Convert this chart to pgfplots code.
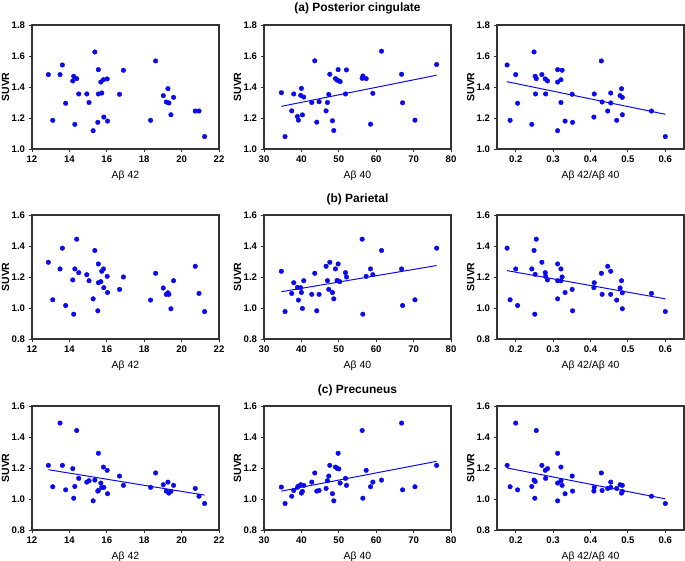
\documentclass[border=0pt]{standalone}
\usepackage{fontspec}
\setmainfont{Liberation Sans}
\usepackage{pgfplots}
\pgfplotsset{compat=1.18}
\definecolor{dotblue}{RGB}{10,10,235}
\pgfplotsset{
  panel/.style={
    scale only axis, width=187bp, height=124bp,
    tick align=outside, tick pos=left,
    axis line style={line width=1.1pt, black!80},
    major tick length=3.5bp,
    every tick/.style={line width=0.9pt, black!80},
    ticklabel style={font=\fontsize{9.6}{10}\selectfont\bfseries},
    /pgf/number format/assume math mode=true,
    ylabel={SUVR},
    ylabel style={font=\fontsize{10.5}{12}\selectfont\bfseries, yshift=-4.5bp},
    xlabel style={font=\fontsize{10.5}{12}\selectfont, yshift=-1bp},
    yticklabel style={/pgf/number format/.cd, fixed, fixed zerofill, precision=1},
    title style={font=\fontsize{12}{14}\selectfont\bfseries, yshift=1bp},
  },
  ca/.style={xmin=12, xmax=22, xtick={12,14,16,18,20,22}, xlabel={Aβ 42}},
  cb/.style={xmin=30, xmax=80, xtick={30,40,50,60,70,80}, xlabel={Aβ 40}},
  cc/.style={xmin=0.15, xmax=0.65, xtick={0.2,0.3,0.4,0.5,0.6}, xlabel={Aβ 42/Aβ 40},
    xticklabel style={/pgf/number format/.cd, fixed, fixed zerofill, precision=1}},
  ra/.style={ymin=1.0, ymax=1.8, ytick={1.0,1.2,1.4,1.6,1.8}},
  rb/.style={ymin=0.8, ymax=1.6, ytick={0.8,1.0,1.2,1.4,1.6}},
  dots/.style={only marks, mark=*, mark size=2.3bp, color=dotblue, mark options={draw=dotblue, fill=dotblue}},
  fit/.style={no marks, color=dotblue, line width=1pt},
}
\begin{document}
\begin{tikzpicture}[x=1bp,y=1bp]
\useasboundingbox (0,0) rectangle (685,561);
% ---------- Row a ----------
\begin{axis}[panel, ca, ra, at={(32bp,412bp)}]
\addplot[dots] coordinates {(12.875,1.48)(13.11,1.185)(13.5,1.48)(13.625,1.542)(13.8,1.295)(14.18,1.439)(14.23,1.469)(14.29,1.159)(14.39,1.454)(14.5,1.355)(14.93,1.355)(15.05,1.30)(15.27,1.118)(15.36,1.626)(15.52,1.172)(15.55,1.512)(15.55,1.355)(15.68,1.432)(15.73,1.361)(15.82,1.447)(15.84,1.206)(16.02,1.452)(16.04,1.18)(16.68,1.353)(16.89,1.508)(18.34,1.185)(18.61,1.568)(19.02,1.344)(19.18,1.303)(19.27,1.389)(19.32,1.297)(19.43,1.221)(19.57,1.333)(20.73,1.245)(20.93,1.245)(21.23,1.08)};
\end{axis}
\begin{axis}[panel, cb, ra, at={(264bp,412bp)}, title={(a) Posterior cingulate}]
\addplot[dots] coordinates {(34.64,1.363)(35.63,1.08)(37.41,1.246)(37.95,1.355)(38.93,1.21)(39.2,1.186)(39.82,1.346)(40.0,1.391)(40.27,1.22)(40.63,1.335)(42.77,1.30)(43.57,1.569)(44.1,1.173)(44.73,1.305)(46.6,1.246)(46.96,1.30)(47.32,1.352)(47.59,1.482)(48.3,1.182)(48.66,1.119)(49.1,1.454)(49.55,1.445)(49.82,1.512)(50.0,1.439)(50.36,1.435)(51.79,1.355)(52.05,1.51)(56.25,1.456)(56.43,1.471)(57.32,1.454)(58.48,1.16)(59.1,1.359)(61.43,1.631)(66.79,1.482)(67.05,1.298)(70.36,1.186)(76.16,1.545)};
\addplot[fit] coordinates {(34.64,1.275)(76.16,1.476)};
\end{axis}
\begin{axis}[panel, cc, ra, at={(497bp,412bp)}]
\addplot[dots] coordinates {(0.177,1.542)(0.185,1.185)(0.2,1.48)(0.205,1.295)(0.243,1.159)(0.249,1.626)(0.252,1.469)(0.253,1.355)(0.255,1.454)(0.27,1.48)(0.279,1.452)(0.28,1.355)(0.285,1.439)(0.312,1.512)(0.312,1.118)(0.312,1.432)(0.321,1.447)(0.321,1.30)(0.324,1.508)(0.332,1.18)(0.351,1.353)(0.352,1.172)(0.41,1.355)(0.409,1.206)(0.429,1.568)(0.431,1.303)(0.446,1.245)(0.454,1.361)(0.454,1.297)(0.47,1.185)(0.479,1.344)(0.483,1.389)(0.485,1.333)(0.485,1.221)(0.563,1.245)(0.6,1.08)};
\addplot[fit] coordinates {(0.177,1.434)(0.6,1.224)};
\end{axis}
% ---------- Row b ----------
\begin{axis}[panel, ca, rb, at={(32bp,222bp)}]
\addplot[dots] coordinates {(12.875,1.295)(13.11,1.053)(13.5,1.252)(13.625,1.386)(13.8,1.016)(14.18,1.181)(14.23,0.96)(14.29,1.252)(14.39,1.444)(14.5,1.228)(14.93,1.215)(15.05,1.176)(15.27,1.059)(15.36,1.371)(15.52,0.982)(15.55,1.284)(15.55,1.163)(15.68,1.17)(15.73,1.237)(15.82,1.252)(15.84,1.131)(16.02,1.204)(16.04,1.10)(16.68,1.12)(16.89,1.2)(18.34,1.051)(18.61,1.224)(19.02,1.129)(19.18,1.088)(19.27,1.098)(19.32,1.088)(19.43,0.995)(19.57,1.176)(20.73,1.269)(20.93,1.094)(21.23,0.977)};
\end{axis}
\begin{axis}[panel, cb, rb, at={(264bp,222bp)}, title={(b) Parietal}]
\addplot[dots] coordinates {(34.64,1.237)(35.63,0.977)(37.41,1.094)(37.95,1.163)(38.93,1.133)(39.2,1.051)(39.82,1.131)(40.0,1.10)(40.27,0.997)(40.63,1.176)(42.77,1.088)(43.57,1.224)(44.1,0.982)(44.73,1.088)(46.6,1.269)(46.96,1.176)(47.32,1.12)(47.59,1.295)(48.3,1.10)(48.66,1.059)(49.1,1.252)(49.55,1.178)(49.82,1.284)(50.27,1.17)(51.79,1.228)(52.05,1.2)(56.25,1.444)(56.43,0.96)(57.32,1.204)(58.48,1.252)(59.1,1.215)(61.43,1.371)(66.79,1.252)(67.05,1.016)(70.36,1.053)(76.16,1.386)};
\addplot[fit] coordinates {(34.64,1.105)(76.16,1.274)};
\end{axis}
\begin{axis}[panel, cc, rb, at={(497bp,222bp)}]
\addplot[dots] coordinates {(0.177,1.386)(0.185,1.053)(0.2,1.252)(0.205,1.016)(0.243,1.252)(0.249,1.371)(0.251,0.96)(0.252,1.217)(0.255,1.444)(0.27,1.295)(0.279,1.228)(0.28,1.204)(0.285,1.181)(0.312,1.284)(0.312,1.059)(0.312,1.176)(0.321,1.252)(0.321,1.176)(0.324,1.2)(0.332,1.10)(0.351,1.12)(0.352,0.982)(0.41,1.163)(0.409,1.131)(0.429,1.224)(0.431,1.088)(0.446,1.269)(0.454,1.237)(0.454,1.088)(0.47,1.051)(0.479,1.129)(0.483,1.176)(0.485,1.098)(0.485,0.995)(0.563,1.094)(0.6,0.977)};
\addplot[fit] coordinates {(0.177,1.241)(0.6,1.059)};
\end{axis}
% ---------- Row c ----------
\begin{axis}[panel, ca, rb, at={(32bp,31bp)}]
\addplot[dots] coordinates {(12.875,1.217)(13.11,1.079)(13.5,1.49)(13.625,1.217)(13.8,1.059)(14.18,1.196)(14.23,1.005)(14.29,1.081)(14.39,1.442)(14.5,1.133)(14.93,1.109)(15.05,1.118)(15.27,0.988)(15.36,1.122)(15.52,1.051)(15.55,1.295)(15.55,1.055)(15.68,1.103)(15.73,1.075)(15.82,1.206)(15.84,1.075)(16.02,1.185)(16.04,1.034)(16.68,1.148)(16.89,1.088)(18.34,1.075)(18.61,1.168)(19.02,1.092)(19.18,1.051)(19.27,1.109)(19.32,1.038)(19.43,1.049)(19.57,1.088)(20.73,1.068)(20.93,1.018)(21.23,0.971)};
\addplot[fit] coordinates {(12.875,1.189)(21.23,1.025)};
\end{axis}
\begin{axis}[panel, cb, rb, at={(264bp,31bp)}, title={(c) Precuneus}]
\addplot[dots] coordinates {(34.64,1.077)(35.63,0.971)(37.41,1.018)(37.95,1.055)(38.93,1.075)(39.2,1.083)(39.82,1.092)(40.0,1.038)(40.27,1.049)(40.63,1.088)(42.77,1.109)(43.57,1.168)(44.1,1.051)(44.73,1.055)(46.6,1.068)(46.96,1.118)(47.32,1.148)(47.59,1.217)(48.3,1.034)(48.66,0.988)(49.1,1.206)(49.55,1.198)(49.82,1.295)(50.0,1.194)(50.36,1.103)(51.79,1.133)(52.05,1.088)(56.25,1.442)(56.43,1.005)(57.32,1.185)(58.48,1.079)(59.1,1.109)(61.43,1.122)(66.79,1.49)(67.05,1.059)(70.36,1.079)(76.16,1.217)};
\addplot[fit] coordinates {(34.64,1.051)(76.16,1.243)};
\end{axis}
\begin{axis}[panel, cc, rb, at={(497bp,31bp)}]
\addplot[dots] coordinates {(0.177,1.217)(0.185,1.079)(0.2,1.49)(0.205,1.059)(0.243,1.081)(0.249,1.122)(0.251,1.005)(0.252,1.113)(0.255,1.442)(0.27,1.217)(0.279,1.185)(0.28,1.133)(0.285,1.196)(0.312,1.295)(0.312,0.988)(0.312,1.103)(0.321,1.206)(0.321,1.118)(0.324,1.088)(0.332,1.034)(0.351,1.148)(0.352,1.051)(0.41,1.075)(0.409,1.051)(0.429,1.168)(0.431,1.055)(0.446,1.068)(0.454,1.109)(0.454,1.075)(0.47,1.068)(0.479,1.092)(0.483,1.038)(0.485,1.088)(0.485,1.049)(0.563,1.018)(0.6,0.971)};
\addplot[fit] coordinates {(0.177,1.2)(0.6,1.001)};
\end{axis}
\end{tikzpicture}
\end{document}
